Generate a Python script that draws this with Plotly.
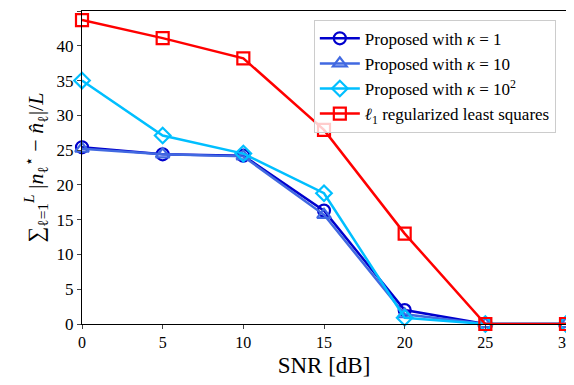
import plotly.graph_objects as go

snr = [0, 5, 10, 15, 20, 25, 30]
kappa1 = [25.4, 24.4, 24.2, 16.3, 2.0, 0, 0]
kappa10 = [25.2, 24.4, 24.1, 15.7, 1.4, 0, 0]
kappa100 = [35.0, 27.1, 24.5, 18.8, 0.9, 0, 0]
l1ls = [43.7, 41.1, 38.2, 27.9, 13.0, 0, 0]

xticks = [0, 5, 10, 15, 20, 25, 30]
yticks = [0, 5, 10, 15, 20, 25, 30, 35, 40, 45]

names = ["Proposed with <i>κ</i> = 1",
         "Proposed with <i>κ</i> = 10",
         "Proposed with <i>κ</i> = 10<sup>2</sup>",
         "<i>ℓ</i><sub>1</sub> regularized least squares"]
series = [kappa1, kappa10, kappa100, l1ls]
colors = ["#0000cd", "#4169e1", "#00bfff", "#ff0000"]
symbols = ["circle-open", "triangle-up-open", "diamond-open", "square-open"]

fig = go.Figure()
for name, ys, c, s in zip(names, series, colors, symbols):
    fig.add_trace(go.Scatter(
        x=snr, y=ys, name=name, mode="lines+markers",
        line=dict(color=c, width=2.5),
        marker=dict(symbol=s, size=12, color=c, line=dict(color=c, width=2.2)),
        cliponaxis=False,
    ))

font = "Liberation Serif"
fig.update_layout(
    width=566, height=377,
    margin=dict(l=74, r=8, t=3, b=61),
    paper_bgcolor="white", plot_bgcolor="white",
    font=dict(family=font, size=17, color="black"),
    showlegend=True,
    legend=dict(x=0.979, y=0.972, xanchor="right", yanchor="top",
                bgcolor="rgba(255,255,255,0.8)", bordercolor="#cccccc", borderwidth=1,
                font=dict(family=font, size=17), tracegroupgap=0,
                itemwidth=40),
)
fig.update_xaxes(
    range=[0, 30], tickvals=xticks, ticks="outside", ticklen=4, tickwidth=1,
    showline=True, linecolor="black", linewidth=1, mirror=True, showgrid=False,
    zeroline=False, tickfont=dict(family=font, size=16), automargin=False,
    title=dict(text="SNR [dB]", font=dict(family=font, size=23), standoff=6),
)
fig.update_yaxes(
    range=[0, 45], tickvals=yticks, ticks="outside", ticklen=4, tickwidth=1,
    showline=True, linecolor="black", linewidth=1, mirror=True, showgrid=False,
    zeroline=False, tickfont=dict(family=font, size=17), automargin=False,
    title=dict(text="∑<sub>ℓ=1</sub><sup><i>L</i></sup> |<i>n</i><sub>ℓ</sub><sup>⋆</sup> − <i>n̂</i><sub>ℓ</sub>|/<i>L</i>",
               font=dict(family=font, size=22), standoff=6),
)
fig.write_html("out.html")
